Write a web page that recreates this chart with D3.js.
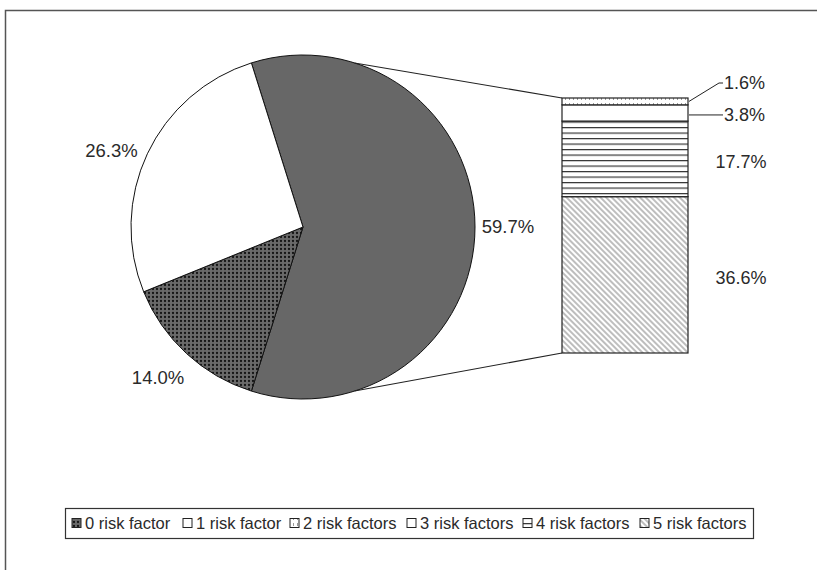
<!DOCTYPE html>
<html>
<head>
<meta charset="utf-8">
<script src="https://cdn.jsdelivr.net/npm/d3@7"></script>
<style>
  body { margin: 0; background: #fff; }
  text { font-family: "Liberation Sans", Arial, sans-serif; fill: #2a2a2a; }
</style>
</head>
<body>
<div class="chart"></div>
<script>
// Data
var categories = ["0 risk factor", "1 risk factor", "2 risk factors", "3 risk factors", "4 risk factors", "5 risk factors"];
var values = [14.0, 26.3, 1.6, 3.8, 17.7, 36.6];
var pieCount = 2;           // first two categories stay in the pie
var labelText = ["14.0%", "26.3%", "1.6%", "3.8%", "17.7%", "36.6%"];
var otherLabel = "59.7%";
var fills = ["url(#dots)", "#fff", "url(#light)", "#fff", "url(#hlines)", "url(#diag)"];

var svgWidth = 817, svgHeight = 570;
var svg = d3.select(".chart").append("svg")
  .attr("width", svgWidth)
  .attr("height", svgHeight);

// patterns
var defs = svg.append("defs");
var p = defs.append("pattern").attr("id", "dots").attr("patternUnits", "userSpaceOnUse")
  .attr("width", 4).attr("height", 4);
p.append("rect").attr("width", 4).attr("height", 4).attr("fill", "#6a6a6a");
p.append("circle").attr("cx", 2).attr("cy", 2).attr("r", 1.15).attr("fill", "#151515");

p = defs.append("pattern").attr("id", "light").attr("patternUnits", "userSpaceOnUse")
  .attr("width", 4).attr("height", 6);
p.append("rect").attr("width", 4).attr("height", 6).attr("fill", "#fff");
p.append("rect").attr("x", 1).attr("y", 1).attr("width", 1).attr("height", 3).attr("fill", "#9a9a9a");

p = defs.append("pattern").attr("id", "hlines").attr("patternUnits", "userSpaceOnUse")
  .attr("width", 8).attr("height", 5.5).attr("y", 0.5);
p.append("rect").attr("width", 8).attr("height", 5.5).attr("fill", "#fff");
p.append("line").attr("x1", 0).attr("x2", 8).attr("y1", 0.6).attr("y2", 0.6)
  .attr("stroke", "#333").attr("stroke-width", 1.2);

p = defs.append("pattern").attr("id", "diag").attr("patternUnits", "userSpaceOnUse")
  .attr("width", 4).attr("height", 4).attr("patternTransform", "rotate(-45)");
p.append("rect").attr("width", 4).attr("height", 4).attr("fill", "#fff");
p.append("line").attr("x1", 1).attr("x2", 1).attr("y1", 0).attr("y2", 4)
  .attr("stroke", "#888").attr("stroke-width", 1.1);

// frame (only top and left edges show)
svg.append("path")
  .attr("d", "M5.5,570 V10.5 H817")
  .attr("fill", "none").attr("stroke", "#555").attr("stroke-width", 1.5);

// ---- pie ----
var cx = 303, cy = 227, r = 172;
var otherValue = d3.sum(values.slice(pieCount));
var pieValues = [otherValue].concat(values.slice(0, pieCount));
var pieFills = ["#676767"].concat(fills.slice(0, pieCount));
var pieLabels = [otherLabel].concat(labelText.slice(0, pieCount));
var total = d3.sum(pieValues);
// the split-off slice is centred on 3 o'clock
var start = Math.PI / 2 - Math.PI * otherValue / total;

var pie = d3.pie().sort(null).startAngle(start).endAngle(start + 2 * Math.PI);
var arcs = pie(pieValues);
var arc = d3.arc().innerRadius(0).outerRadius(r);
var labelArc = d3.arc().innerRadius(205).outerRadius(205);

var pieG = svg.append("g").attr("transform", "translate(" + cx + "," + cy + ")");
pieG.selectAll("path.slice")
  .data(arcs)
  .enter().append("path")
  .attr("class", "slice")
  .attr("d", arc)
  .attr("fill", function(d, i) { return pieFills[i]; })
  .attr("stroke", "#111")
  .attr("stroke-width", 1);

pieG.selectAll("text.plabel")
  .data(arcs)
  .enter().append("text")
  .attr("class", "plabel")
  .attr("transform", function(d) {
    var c = labelArc.centroid(d);
    // nudge the left labels a little, like Excel's placement
    if (c[0] < 0) c[0] -= 6;
    if (c[0] < 0 && c[1] < 0) c[1] *= 0.88;
    return "translate(" + c + ")";
  })
  .attr("text-anchor", "middle")
  .attr("dy", "0.35em")
  .attr("font-size", "18.5px")
  .text(function(d, i) { return pieLabels[i]; });

// ---- bar of the "other" slice ----
var barX = 562, barW = 126;
var barVals = values.slice(pieCount).reverse();          // bottom to top
var barFills = fills.slice(pieCount).reverse();
var barLabels = labelText.slice(pieCount).reverse();
var yScale = d3.scaleLinear().domain([0, otherValue]).range([353, 98]);
var cum = 0;
var segs = barVals.map(function(v, i) {
  var s = { y0: cum, y1: cum + v, fill: barFills[i], label: barLabels[i] };
  cum += v;
  return s;
});

svg.selectAll("rect.seg")
  .data(segs)
  .enter().append("rect")
  .attr("class", "seg")
  .attr("x", barX)
  .attr("width", barW)
  .attr("y", function(d) { return yScale(d.y1); })
  .attr("height", function(d) { return yScale(d.y0) - yScale(d.y1); })
  .attr("fill", function(d) { return d.fill; })
  .attr("stroke", "#222")
  .attr("stroke-width", 1.2);

// connector lines: from the slice edges mirrored onto the right side of the pie
var oa = arcs[0];
var aTop = -oa.startAngle;
var aBot = 2 * Math.PI - oa.endAngle;
svg.append("line")
  .attr("x1", cx + r * Math.sin(aTop)).attr("y1", cy - r * Math.cos(aTop))
  .attr("x2", barX).attr("y2", yScale(otherValue))
  .attr("stroke", "#222").attr("stroke-width", 1.1);
svg.append("line")
  .attr("x1", cx + r * Math.sin(aBot)).attr("y1", cy - r * Math.cos(aBot))
  .attr("x2", barX).attr("y2", yScale(0))
  .attr("stroke", "#222").attr("stroke-width", 1.1);

// bar labels
var labelX = 741;
segs.forEach(function(d) {
  var mid = yScale((d.y0 + d.y1) / 2);
  var lx = labelX, ly = mid + 3, anchor = "middle";
  if (d.y1 - d.y0 < 3) {
    lx = 724; ly = yScale(d.y1) - 15; anchor = "start";
    svg.append("polyline")
      .attr("points", [[barX + barW + 1, mid], [lx - 5, ly], [lx - 1, ly]].join(" "))
      .attr("fill", "none").attr("stroke", "#222").attr("stroke-width", 1);
  } else if (d.y1 - d.y0 < 6) {
    lx = 724; ly = mid + 2; anchor = "start";
    svg.append("line")
      .attr("x1", barX + barW + 1).attr("y1", ly).attr("x2", lx - 1).attr("y2", ly)
      .attr("stroke", "#222").attr("stroke-width", 1);
  }
  svg.append("text")
    .attr("x", lx).attr("y", ly)
    .attr("dy", "0.35em")
    .attr("text-anchor", anchor)
    .attr("font-size", "18px")
    .text(d.label);
});

// ---- legend ----
var legend = svg.append("g");
legend.append("rect")
  .attr("x", 65.5).attr("y", 508.5).attr("width", 688).attr("height", 30)
  .attr("fill", "#fff").attr("stroke", "#333").attr("stroke-width", 1.2);
var legX = [72, 183, 290, 407, 523, 640];
categories.forEach(function(c, i) {
  legend.append("rect")
    .attr("x", legX[i]).attr("y", 518.5).attr("width", 9).attr("height", 9)
    .attr("fill", fills[i]).attr("stroke", "#222").attr("stroke-width", 1);
  legend.append("text")
    .attr("x", legX[i] + 13).attr("y", 523.5)
    .attr("dy", "0.35em")
    .attr("font-size", "16.5px")
    .text(c);
});
</script>
</body>
</html>
